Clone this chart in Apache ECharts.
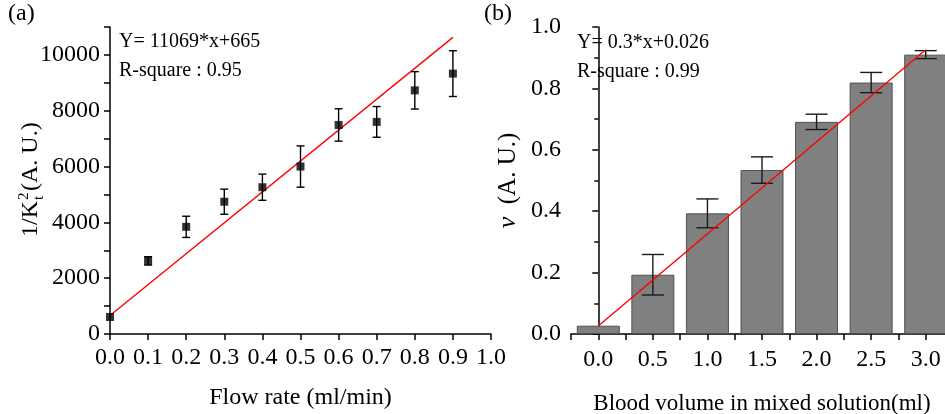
<!DOCTYPE html>
<html>
<head>
<meta charset="utf-8">
<script src="https://cdn.jsdelivr.net/npm/echarts@6/dist/echarts.min.js"></script>
<style>
  html, body { margin: 0; padding: 0; background: #fff; }
  #chart { width: 945px; height: 414px; }
</style>
</head>
<body>
<div id="chart"></div>
<script>
// (a) 流速数据
const flowRate = [0.0, 0.1, 0.2, 0.3, 0.4, 0.5, 0.6, 0.7, 0.8, 0.9];
const invK2 = [610, 2620, 3840, 4740, 5260, 6000, 7490, 7600, 8730, 9330];
const invK2Err = [0, 150, 380, 450, 470, 740, 580, 550, 670, 820];
const fitA = { k: 11069, b: 665, x0: 0, x1: 0.9 };

// (b) 血液体积数据
const bloodVol = [0.0, 0.5, 1.0, 1.5, 2.0, 2.5, 3.0];
const nuVal = [0.027, 0.193, 0.393, 0.534, 0.691, 0.819, 0.910];
const nuErr = [0, 0.066, 0.047, 0.043, 0.025, 0.033, 0.013];
const fitB = { k: 0.3, b: 0.026, x0: 0, x1: 3 };

const FONT = 'Liberation Serif';

const chart = echarts.init(document.getElementById('chart'));

function errBar(capHalf, color) {
    return function (params, api) {
        const x = api.value(0), y = api.value(1), e = api.value(2);
        if (!e) return null;
        const top = api.coord([x, y + e]);
        const bot = api.coord([x, y - e]);
        const style = { stroke: color, lineWidth: 1.4 };
        return {
            type: 'group',
            children: [
                { type: 'line', shape: { x1: top[0], y1: top[1], x2: bot[0], y2: bot[1] }, style },
                { type: 'line', shape: { x1: top[0] - capHalf, y1: top[1], x2: top[0] + capHalf, y2: top[1] }, style },
                { type: 'line', shape: { x1: bot[0] - capHalf, y1: bot[1], x2: bot[0] + capHalf, y2: bot[1] }, style }
            ]
        };
    };
}

const axisLine = { lineStyle: { color: '#000', width: 1.5 } };
const axisTick = { inside: false, length: 6, lineStyle: { color: '#000', width: 1.5 } };
const minorTick = { show: true, splitNumber: 2, length: 4, lineStyle: { color: '#000', width: 1.5 } };
const labelBase = { color: '#000', fontFamily: FONT, fontSize: 24 };

function txt(s, x, y, size, align) {
    return {
        type: 'text', x: x, y: y,
        style: { text: s, font: size + 'px "Liberation Serif"', fill: '#000', textAlign: align || 'left', textVerticalAlign: 'middle' }
    };
}

const option = {
    animation: false,
    backgroundColor: '#fff',
    textStyle: { fontFamily: FONT },
    grid: [
        { left: 110, right: 454, top: 27, bottom: 80, outerBoundsMode: 'none' },
        { left: 571, right: -8, top: 27, bottom: 80, outerBoundsMode: 'none' }
    ],
    xAxis: [{
        gridIndex: 0,
        type: 'value',
        min: 0, max: 1, interval: 0.1,
        axisLine, axisTick,
        splitLine: { show: false },
        axisLabel: Object.assign({ margin: 12, formatter: v => v.toFixed(1) }, labelBase),
        name: 'Flow rate (ml/min)',
        nameLocation: 'middle',
        nameGap: 52,
        nameTextStyle: { color: '#000', fontFamily: FONT, fontSize: 24 }
    }, {
        gridIndex: 1,
        type: 'value',
        min: -0.25, max: 3.25, interval: 0.25,
        axisLine, axisTick,
        splitLine: { show: false },
        axisLabel: Object.assign({
            margin: 14,
            formatter: v => (Math.abs(v * 2 - Math.round(v * 2)) < 1e-6 && v >= 0 && v <= 3) ? v.toFixed(1) : ''
        }, labelBase),
        name: 'Blood volume in mixed solution(ml)',
        nameLocation: 'middle',
        nameGap: 58,
        nameTextStyle: { color: '#000', fontFamily: FONT, fontSize: 23 }
    }],
    yAxis: [{
        gridIndex: 0,
        type: 'value',
        min: 0, max: 11000, interval: 1000,
        axisLine: Object.assign({ show: true }, axisLine),
        axisTick,
        splitLine: { show: false },
        axisLabel: Object.assign({ margin: 10, formatter: v => (v % 2000 === 0 && v <= 10000) ? String(v) : '' }, labelBase)
    }, {
        gridIndex: 1,
        type: 'value',
        min: 0, max: 1, interval: 0.2,
        axisLine: Object.assign({ show: true }, axisLine),
        axisTick, minorTick,
        splitLine: { show: false },
        minorSplitLine: { show: false },
        axisLabel: Object.assign({ margin: 10, formatter: v => v.toFixed(1) }, labelBase),
        name: '{i|ν}  (A. U.)',
        nameLocation: 'middle',
        nameRotate: 90,
        nameGap: 50,
        nameTextStyle: {
            color: '#000', fontFamily: FONT, fontSize: 25,
            rich: { i: { fontFamily: FONT, fontSize: 26, fontStyle: 'italic', color: '#000' } }
        }
    }],
    graphic: [
        { type: 'text', left: 8, top: 2, style: { text: '(a)', font: '24px "Liberation Serif"', fill: '#000' } },
        { type: 'text', left: 484, top: 2, style: { text: '(b)', font: '24px "Liberation Serif"', fill: '#000' } },
        { type: 'text', left: 119, top: 32, style: { text: 'Y= 11069*x+665', font: '20px "Liberation Serif"', fill: '#000' } },
        { type: 'text', left: 119, top: 61, style: { text: 'R-square : 0.95', font: '20px "Liberation Serif"', fill: '#000' } },
        { type: 'text', left: 577, top: 33, style: { text: 'Y= 0.3*x+0.026', font: '20px "Liberation Serif"', fill: '#000' } },
        { type: 'text', left: 577, top: 62, style: { text: 'R-square : 0.99', font: '20px "Liberation Serif"', fill: '#000' } },
        // 纵轴标题 1/Kt²(A. U.)，上下标叠放
        {
            type: 'group', x: 31, y: 180, rotation: Math.PI / 2,
            children: [
                txt('1/K', -57, 0, 24),
                txt('2', -20, -7, 15),
                txt('t', -20, 8, 15),
                txt('(A. U.)', -11, 0, 24)
            ]
        }
    ],
    series: [{
        type: 'line',
        xAxisIndex: 0, yAxisIndex: 0,
        data: [[fitA.x0, fitA.k * fitA.x0 + fitA.b], [fitA.x1, fitA.k * fitA.x1 + fitA.b]],
        symbol: 'none',
        lineStyle: { color: '#ff0000', width: 1.4 },
        z: 3
    }, {
        type: 'custom',
        xAxisIndex: 0, yAxisIndex: 0,
        renderItem: errBar(4, '#000'),
        data: flowRate.map((x, i) => [x, invK2[i], invK2Err[i]]),
        z: 4
    }, {
        type: 'scatter',
        xAxisIndex: 0, yAxisIndex: 0,
        data: flowRate.map((x, i) => [x, invK2[i]]),
        symbol: 'rect',
        symbolSize: 8,
        itemStyle: { color: '#000' },
        z: 5
    }, {
        type: 'bar',
        xAxisIndex: 1, yAxisIndex: 1,
        data: bloodVol.map((x, i) => [x, nuVal[i]]),
        barWidth: 43,
        itemStyle: { color: '#808080', borderColor: '#505050', borderWidth: 1 },
        z: 2
    }, {
        type: 'custom',
        xAxisIndex: 1, yAxisIndex: 1,
        renderItem: errBar(11, '#1a1a1a'),
        data: bloodVol.map((x, i) => [x, nuVal[i], nuErr[i]]),
        z: 4
    }, {
        type: 'line',
        xAxisIndex: 1, yAxisIndex: 1,
        data: [[fitB.x0, fitB.k * fitB.x0 + fitB.b], [fitB.x1, fitB.k * fitB.x1 + fitB.b]],
        symbol: 'none',
        lineStyle: { color: '#ff0000', width: 1.4 },
        z: 5
    }]
};

chart.setOption(option);
</script>
</body>
</html>
